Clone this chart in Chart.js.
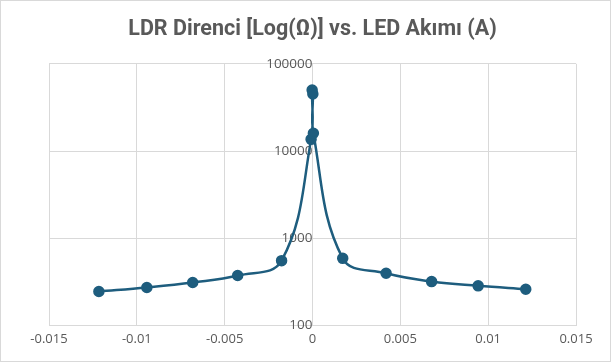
<!DOCTYPE html>
<html>
<head>
<meta charset="utf-8">
<script src="https://cdn.jsdelivr.net/npm/chart.js@4"></script>
<style>
  html, body { margin: 0; padding: 0; background: #fff; }
  #wrap { width: 609px; height: 360px; border: 1px solid #d9d9d9; }
</style>
</head>
<body>
<div id="wrap"><canvas id="ldrChart" width="609" height="360"></canvas></div>
<script>
// LED current (A) and LDR resistance (ohm)
const ledCurrent = [-0.01216, -0.00943, -0.00682, -0.00426, -0.00176, -0.00008, -0.00002, 0.00002, 0.00005, 0.00172, 0.00419, 0.00678, 0.00943, 0.01214];
const ldrResistance = [245, 272, 310, 373, 553, 13600, 50000, 45000, 16000, 588, 396, 318, 284, 260];
const xTicks = [-0.015, -0.01, -0.005, 0, 0.005, 0.01, 0.015];
const yTicks = [100, 1000, 10000, 100000];

const points = ledCurrent.map((x, i) => ({ x: x, y: ldrResistance[i] }));
const grey = "#595959";
const gridGrey = "#d9d9d9";
const titleFont = "Roboto, sans-serif";
const tickFont = "'Open Sans', Roboto, sans-serif";

let ctx = document.getElementById("ldrChart").getContext("2d");
let ldrChart = new Chart(ctx, {
  type: "scatter",
  data: {
    datasets: [{
      data: points,
      showLine: true,
      tension: 0.4,
      borderColor: "#1e5d7e",
      backgroundColor: "#1e5d7e",
      borderWidth: 2.5,
      pointRadius: 4.5,
      pointHoverRadius: 4.5
    }]
  },
  options: {
    responsive: false,
    animation: false,
    layout: { padding: { left: 48, right: 34, top: 0, bottom: 8 } },
    plugins: {
      legend: { display: false },
      tooltip: { enabled: false },
      title: {
        display: true,
        text: "LDR Direnci [Log(Ω)] vs. LED Akımı (A)",
        color: grey,
        font: { family: titleFont, size: 21.5, weight: "bold" },
        padding: { top: 16, bottom: 21 }
      }
    },
    scales: {
      x: {
        type: "linear",
        min: -0.015,
        max: 0.015,
        afterBuildTicks: axis => { axis.ticks = xTicks.map(v => ({ value: v })); },
        ticks: {
          color: grey,
          font: { family: tickFont, size: 13 },
          padding: 6,
          callback: v => String(Number(v.toFixed(3)))
        },
        grid: { color: gridGrey, drawTicks: false },
        border: { color: gridGrey }
      },
      y: {
        type: "logarithmic",
        min: 100,
        max: 100000,
        position: { x: 0 },
        afterBuildTicks: axis => { axis.ticks = yTicks.map(v => ({ value: v })); },
        ticks: {
          color: grey,
          font: { family: tickFont, size: 13.5 },
          padding: 10,
          callback: v => String(v)
        },
        grid: { color: gridGrey, drawTicks: false },
        border: { color: gridGrey }
      }
    }
  }
});
</script>
</body>
</html>
